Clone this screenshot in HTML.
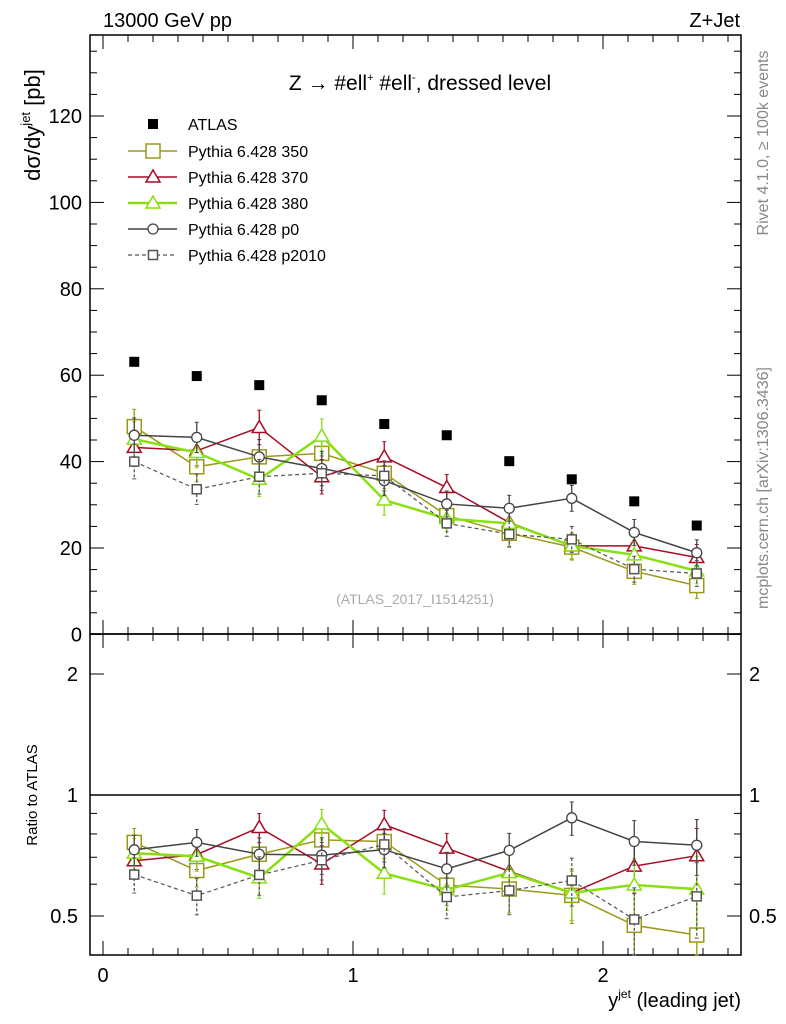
<!DOCTYPE html>
<html><head><meta charset="utf-8">
<style>
body{margin:0;background:#fff;}
svg{display:block;font-family:"Liberation Sans",sans-serif;}
</style></head>
<body>
<svg id="c" width="786" height="1024" viewBox="0 0 786 1024" xmlns="http://www.w3.org/2000/svg">
<rect width="786" height="1024" fill="#fff"/>
<text x="103" y="27" font-size="20">13000 GeV pp</text>
<text x="740" y="27" font-size="20" text-anchor="end">Z+Jet</text>
<text x="420" y="90" font-size="21" text-anchor="middle">Z → #ell<tspan font-size="11" dy="-9">+</tspan><tspan dy="9"> #ell</tspan><tspan font-size="11" dy="-9">-</tspan><tspan dy="9">, dressed level</tspan></text>
<text transform="translate(40,125) rotate(-90)" font-size="22" text-anchor="middle">dσ/dy<tspan font-size="13" dy="-10">jet</tspan><tspan dy="10"> [pb]</tspan></text>
<text transform="translate(37,795) rotate(-90)" font-size="15" text-anchor="middle">Ratio to ATLAS</text>
<text x="741" y="1007" font-size="20" text-anchor="end">y<tspan font-size="12" dy="-9">jet</tspan><tspan dy="9"> (leading jet)</tspan></text>
<text transform="translate(768,143) rotate(-90)" font-size="16" fill="#888" text-anchor="middle">Rivet 4.1.0, ≥ 100k events</text>
<text transform="translate(768,488) rotate(-90)" font-size="16" fill="#888" text-anchor="middle">mcplots.cern.ch [arXiv:1306.3436]</text>
<text x="415" y="604" font-size="14" fill="#aaa" text-anchor="middle">(ATLAS_2017_I1514251)</text>
<g id="g"></g>
</svg>
<script>
const categories=[0.125,0.375,0.625,0.875,1.125,1.375,1.625,1.875,2.125,2.375];
const atlasVals=[63.1,59.8,57.7,54.2,48.7,46.1,40.1,35.9,30.8,25.2];
const p350Vals=[48.1,38.8,41.1,41.9,37.3,27.5,23.4,20.2,14.6,11.3];
const p370Vals=[43.3,42.5,47.9,36.5,41.1,34.0,25.9,20.5,20.5,17.8];
const p380Vals=[45.2,42.1,35.9,45.9,31.1,26.8,25.7,20.5,18.4,14.7];
const p0Vals=[46.1,45.6,41.1,38.4,35.6,30.2,29.2,31.5,23.6,18.9];
const p2010Vals=[40.0,33.6,36.5,37.3,36.7,25.7,23.2,22.0,15.1,14.1];
const mcErrs=[4,3.5,4,4,3.5,3,3,3,3,3];
const mainTicks=[0,20,40,60,80,100,120];
const ratioTicks=[0.5,1,2];
const xTicks=[0,1,2];

const NS="http://www.w3.org/2000/svg";
const g=document.getElementById('g');
const L=90,R=741,T=35,MB=634,RB=955;
const X=v=>103+250*v;
const Y=v=>634.4-4.32*v;
const YR=r=>795-402*Math.log10(r);
function mk(tag,at,parent){const e=document.createElementNS(NS,tag);for(const k in at)e.setAttribute(k,at[k]);(parent||g).appendChild(e);return e;}

let f=mk('rect',{x:L,y:T,width:R-L,height:MB-T,fill:'none',stroke:'#000','stroke-width':1.5});


f=mk('rect',{x:L,y:MB,width:R-L,height:RB-MB,fill:'none',stroke:'#000','stroke-width':1.5});


let ref=mk('line',{x1:L,x2:R,y1:YR(1),y2:YR(1),stroke:'#000','stroke-width':1.5});



for(let i=0;i<=25;i++){const v=i/10;const x=X(v);if(x<L||x>R)continue;const big=i%10==0;const len=big?14:7;
 mk('line',{x1:x,x2:x,y1:T,y2:T+len,stroke:'#000'});mk('line',{x1:x,x2:x,y1:MB,y2:MB-len,stroke:'#000'});
 mk('line',{x1:x,x2:x,y1:MB,y2:MB+len,stroke:'#000'});mk('line',{x1:x,x2:x,y1:RB,y2:RB-len,stroke:'#000'});}
xTicks.forEach(v=>{const t=mk('text',{x:X(v),y:982,'font-size':20,'text-anchor':'middle'});t.textContent=v;
 
 });
for(let v=0;v<=135;v+=5){const y=Y(v);if(y<T)continue;const len=v%20==0?14:7;
 mk('line',{x1:L,x2:L+len,y1:y,y2:y,stroke:'#000'});mk('line',{x1:R,x2:R-len,y1:y,y2:y,stroke:'#000'});}
mainTicks.forEach(v=>{const t=mk('text',{x:82,y:Y(v)+7,'font-size':20,'text-anchor':'end'});t.textContent=v;
 
 });
[0.5,0.6,0.7,0.8,0.9,1,2].forEach(v=>{const y=YR(v);const len=(v==0.5||v==1||v==2)?14:7;
 mk('line',{x1:L,x2:L+len,y1:y,y2:y,stroke:'#000'});mk('line',{x1:R,x2:R-len,y1:y,y2:y,stroke:'#000'});});
ratioTicks.forEach(v=>{let t=mk('text',{x:78,y:YR(v)+7,'font-size':20,'text-anchor':'end'});t.textContent=v;
 
 
 t=mk('text',{x:749,y:YR(v)+7,'font-size':20});t.textContent=v;
 
 });

function marker(type,x,y,col,size,parent){
 if(type=='sq')return mk('rect',{x:x-size,y:y-size,width:2*size,height:2*size,fill:'#fff',stroke:col,'stroke-width':1.5},parent);
 if(type=='tri')return mk('polygon',{points:`${x},${y-size-1} ${x-size-1},${y+size-1} ${x+size+1},${y+size-1}`,fill:'#fff',stroke:col,'stroke-width':1.5},parent);
 if(type=='circ')return mk('circle',{cx:x,cy:y,r:size,fill:'#fff',stroke:col,'stroke-width':1.3},parent);
}
const series=[
 {name:'Pythia 6.428 350',vals:p350Vals,col:'#9a9a1a',type:'sq',size:7,w:1.5,dash:''},
 {name:'Pythia 6.428 370',vals:p370Vals,col:'#aa0a25',type:'tri',size:6,w:1.5,dash:''},
 {name:'Pythia 6.428 380',vals:p380Vals,col:'#88e010',type:'tri',size:6,w:2.5,dash:''},
 {name:'Pythia 6.428 p0',vals:p0Vals,col:'#444',type:'circ',size:5,w:1.5,dash:''},
 {name:'Pythia 6.428 p2010',vals:p2010Vals,col:'#555',type:'sq',size:4.5,w:1.2,dash:'4,3'}
];
function clipR(y){return Math.min(RB,Math.max(MB,y));}
series.forEach((s,si)=>{
 const grp=mk('g',{});
 
 
 const pm=categories.map((c,i)=>X(c)+','+Y(s.vals[i])).join(' ');
 mk('polyline',{points:pm,fill:'none',stroke:s.col,'stroke-width':s.w,'stroke-dasharray':s.dash},grp);
 const pr=categories.map((c,i)=>X(c)+','+YR(s.vals[i]/atlasVals[i])).join(' ');
 mk('polyline',{points:pr,fill:'none',stroke:s.col,'stroke-width':s.w,'stroke-dasharray':s.dash},grp);
 categories.forEach((c,i)=>{
  const x=X(c),v=s.vals[i],e=mcErrs[i],a=atlasVals[i];
  [[Y(v+e),Y(v-e)],[clipR(YR((v+e)/a)),clipR(YR((v-e)/a))]].forEach(([y1,y2])=>{
   mk('line',{x1:x,x2:x,y1:y1,y2:y2,stroke:s.col,'stroke-width':1.3,'stroke-dasharray':s.dash?'3,2':''},grp);
   mk('line',{x1:x-2,x2:x+2,y1:y1,y2:y1,stroke:s.col},grp);mk('line',{x1:x-2,x2:x+2,y1:y2,y2:y2,stroke:s.col},grp);
  });
  let m=marker(s.type,x,Y(v),s.col,s.size,grp);
  
  
  m=marker(s.type,x,YR(v/a),s.col,s.size,grp);
  
  
 });
 const ly=151+si*26;
 const lg=mk('g',{});
 
 
 mk('line',{x1:128,x2:177,y1:ly,y2:ly,stroke:s.col,'stroke-width':s.w,'stroke-dasharray':s.dash},lg);
 marker(s.type,153,ly,s.col,s.size,lg);
 const t=mk('text',{x:188,y:ly+6,'font-size':16},lg);t.textContent=s.name;
});
const ag=mk('g',{});


categories.forEach((c,i)=>{const m=mk('rect',{x:X(c)-5,y:Y(atlasVals[i])-5,width:10,height:10,fill:'#000'},ag);
 
 });
const al=mk('g',{});


mk('rect',{x:148,y:119,width:10,height:10,fill:'#000'},al);
const at=mk('text',{x:188,y:130,'font-size':16},al);at.textContent='ATLAS';
</script>
</body></html>
